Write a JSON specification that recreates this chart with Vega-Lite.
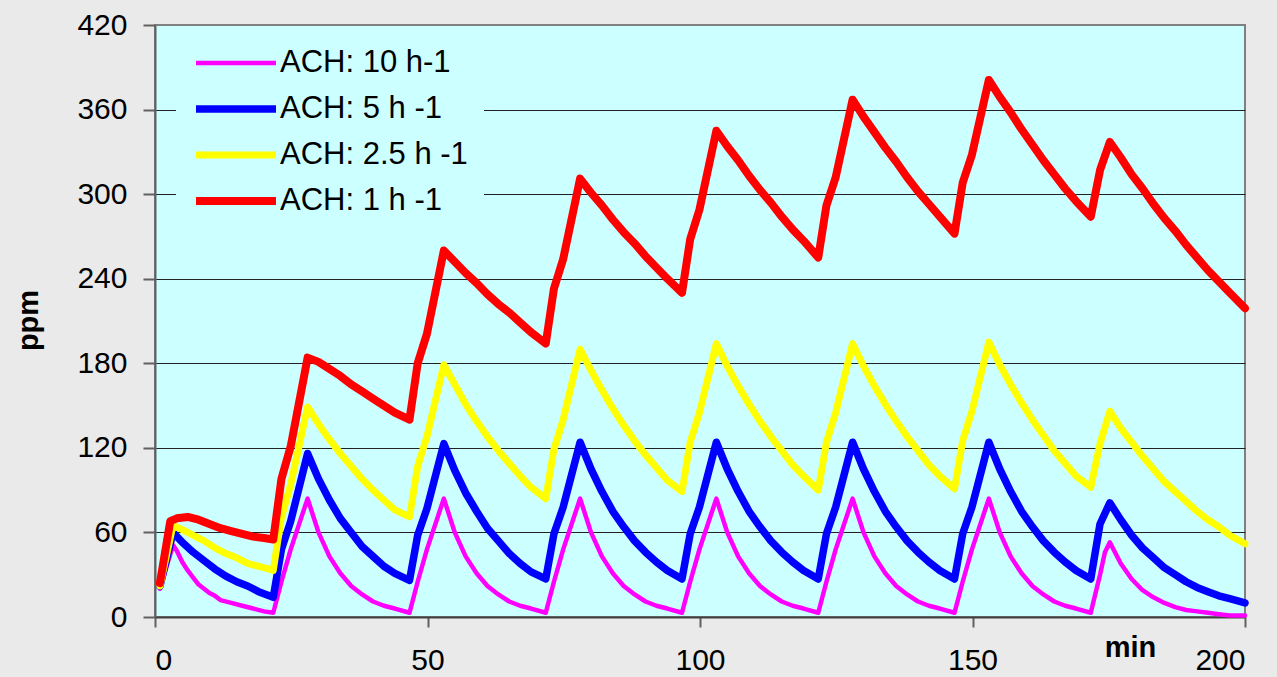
{
  "$schema": "https://vega.github.io/schema/vega-lite/v6.json",
  "autosize": "none",
  "padding": {"left": 155, "top": 25, "right": 32, "bottom": 60},
  "width": 1090,
  "height": 592,
  "background": "#EAEAEA",
  "config": {
    "view": {"fill": "#CCFFFF", "stroke": "#808080", "strokeWidth": 2},
    "font": "Liberation Sans",
    "axis": {
      "labelFont": "Liberation Sans", "labelFontSize": 30, "labelColor": "#000000",
      "titleFont": "Liberation Sans", "titleFontSize": 29, "titleFontWeight": "bold", "titleColor": "#000000",
      "domainColor": "#606060", "domainWidth": 2, "tickColor": "#606060", "tickWidth": 2
    },
    "legend": {
      "orient": "none", "legendX": 21, "legendY": 7, "fillColor": "#CCFFFF", "padding": 16,
      "symbolType": "stroke", "symbolSize": 6400, "clipHeight": 30,
      "labelFont": "Liberation Sans", "labelFontSize": 31, "labelColor": "#000000",
      "rowPadding": 15, "labelOffset": 0, "labelLimit": 0
    }
  },
  "data": {"values": [
    {"s":"10","t":0.9,"v":20},{"s":"10","t":3.3,"v":51},{"s":"10","t":4,"v":47},{"s":"10","t":5,"v":39},{"s":"10","t":6,"v":33},{"s":"10","t":7,"v":28},{"s":"10","t":8,"v":23},{"s":"10","t":9,"v":20},{"s":"10","t":10,"v":17},{"s":"10","t":11,"v":15},{"s":"10","t":12,"v":12},{"s":"10","t":14,"v":10},{"s":"10","t":16,"v":8},{"s":"10","t":18,"v":6},{"s":"10","t":20,"v":4},{"s":"10","t":21.7,"v":3},
    {"s":"10","t":23.2,"v":25},{"s":"10","t":24.9,"v":48},{"s":"10","t":28,"v":84},{"s":"10","t":30,"v":60},{"s":"10","t":32,"v":43},{"s":"10","t":34,"v":31},{"s":"10","t":36,"v":22},{"s":"10","t":38,"v":16},{"s":"10","t":40,"v":11},{"s":"10","t":42,"v":8},{"s":"10","t":44,"v":6},{"s":"10","t":46.7,"v":3},
    {"s":"10","t":48.2,"v":25},{"s":"10","t":49.9,"v":48},{"s":"10","t":53,"v":84},{"s":"10","t":55,"v":60},{"s":"10","t":57,"v":43},{"s":"10","t":59,"v":31},{"s":"10","t":61,"v":22},{"s":"10","t":63,"v":16},{"s":"10","t":65,"v":11},{"s":"10","t":67,"v":8},{"s":"10","t":69,"v":6},{"s":"10","t":71.7,"v":3},
    {"s":"10","t":73.2,"v":25},{"s":"10","t":74.9,"v":48},{"s":"10","t":78,"v":84},{"s":"10","t":80,"v":60},{"s":"10","t":82,"v":43},{"s":"10","t":84,"v":31},{"s":"10","t":86,"v":22},{"s":"10","t":88,"v":16},{"s":"10","t":90,"v":11},{"s":"10","t":92,"v":8},{"s":"10","t":94,"v":6},{"s":"10","t":96.7,"v":3},
    {"s":"10","t":98.2,"v":25},{"s":"10","t":99.9,"v":48},{"s":"10","t":103,"v":84},{"s":"10","t":105,"v":60},{"s":"10","t":107,"v":43},{"s":"10","t":109,"v":31},{"s":"10","t":111,"v":22},{"s":"10","t":113,"v":16},{"s":"10","t":115,"v":11},{"s":"10","t":117,"v":8},{"s":"10","t":119,"v":6},{"s":"10","t":121.7,"v":3},
    {"s":"10","t":123.2,"v":25},{"s":"10","t":124.9,"v":48},{"s":"10","t":128,"v":84},{"s":"10","t":130,"v":60},{"s":"10","t":132,"v":43},{"s":"10","t":134,"v":31},{"s":"10","t":136,"v":22},{"s":"10","t":138,"v":16},{"s":"10","t":140,"v":11},{"s":"10","t":142,"v":8},{"s":"10","t":144,"v":6},{"s":"10","t":146.7,"v":3},
    {"s":"10","t":148.2,"v":25},{"s":"10","t":149.9,"v":48},{"s":"10","t":153,"v":84},{"s":"10","t":155,"v":60},{"s":"10","t":157,"v":43},{"s":"10","t":159,"v":31},{"s":"10","t":161,"v":22},{"s":"10","t":163,"v":16},{"s":"10","t":165,"v":11},{"s":"10","t":167,"v":8},{"s":"10","t":169,"v":6},{"s":"10","t":171.7,"v":3},
    {"s":"10","t":173.4,"v":30},{"s":"10","t":174.3,"v":46},{"s":"10","t":175.2,"v":53},{"s":"10","t":177.2,"v":38},{"s":"10","t":179.2,"v":27},{"s":"10","t":181.2,"v":19},{"s":"10","t":183.2,"v":14},{"s":"10","t":185.2,"v":10},{"s":"10","t":187.2,"v":7},{"s":"10","t":189.2,"v":5},{"s":"10","t":191.2,"v":4},{"s":"10","t":193.2,"v":3},{"s":"10","t":195.2,"v":2},{"s":"10","t":197.2,"v":1},{"s":"10","t":200,"v":1},

    {"s":"5","t":0.9,"v":22},{"s":"5","t":3.3,"v":60},{"s":"5","t":5,"v":53},{"s":"5","t":7,"v":46},{"s":"5","t":9,"v":40},{"s":"5","t":11,"v":34},{"s":"5","t":13,"v":29},{"s":"5","t":15,"v":25},{"s":"5","t":17,"v":22},{"s":"5","t":19,"v":18},{"s":"5","t":21.7,"v":14},
    {"s":"5","t":23.2,"v":48},{"s":"5","t":24.9,"v":68},{"s":"5","t":28,"v":116},{"s":"5","t":30,"v":98},{"s":"5","t":32,"v":83},{"s":"5","t":34,"v":70},{"s":"5","t":36,"v":60},{"s":"5","t":38,"v":50},{"s":"5","t":40,"v":43},{"s":"5","t":42,"v":36},{"s":"5","t":44,"v":31},{"s":"5","t":46.7,"v":26},
    {"s":"5","t":48.2,"v":58},{"s":"5","t":49.9,"v":77},{"s":"5","t":53,"v":123},{"s":"5","t":55,"v":104},{"s":"5","t":57,"v":88},{"s":"5","t":59,"v":75},{"s":"5","t":61,"v":63},{"s":"5","t":63,"v":54},{"s":"5","t":65,"v":45},{"s":"5","t":67,"v":38},{"s":"5","t":69,"v":32},{"s":"5","t":71.7,"v":27},
    {"s":"5","t":73.2,"v":59},{"s":"5","t":74.9,"v":78},{"s":"5","t":78,"v":124},{"s":"5","t":80,"v":105},{"s":"5","t":82,"v":89},{"s":"5","t":84,"v":75},{"s":"5","t":86,"v":64},{"s":"5","t":88,"v":54},{"s":"5","t":90,"v":46},{"s":"5","t":92,"v":39},{"s":"5","t":94,"v":33},{"s":"5","t":96.7,"v":27},
    {"s":"5","t":98.2,"v":59},{"s":"5","t":99.9,"v":78},{"s":"5","t":103,"v":124},{"s":"5","t":105,"v":105},{"s":"5","t":107,"v":89},{"s":"5","t":109,"v":75},{"s":"5","t":111,"v":64},{"s":"5","t":113,"v":54},{"s":"5","t":115,"v":46},{"s":"5","t":117,"v":39},{"s":"5","t":119,"v":33},{"s":"5","t":121.7,"v":27},
    {"s":"5","t":123.2,"v":59},{"s":"5","t":124.9,"v":78},{"s":"5","t":128,"v":124},{"s":"5","t":130,"v":105},{"s":"5","t":132,"v":89},{"s":"5","t":134,"v":75},{"s":"5","t":136,"v":64},{"s":"5","t":138,"v":54},{"s":"5","t":140,"v":46},{"s":"5","t":142,"v":39},{"s":"5","t":144,"v":33},{"s":"5","t":146.7,"v":27},
    {"s":"5","t":148.2,"v":59},{"s":"5","t":149.9,"v":78},{"s":"5","t":153,"v":124},{"s":"5","t":155,"v":105},{"s":"5","t":157,"v":89},{"s":"5","t":159,"v":75},{"s":"5","t":161,"v":64},{"s":"5","t":163,"v":54},{"s":"5","t":165,"v":46},{"s":"5","t":167,"v":39},{"s":"5","t":169,"v":33},{"s":"5","t":171.7,"v":27},
    {"s":"5","t":173.4,"v":66},{"s":"5","t":175.2,"v":81},{"s":"5","t":177.2,"v":69},{"s":"5","t":179.2,"v":58},{"s":"5","t":181.2,"v":49},{"s":"5","t":183.2,"v":42},{"s":"5","t":185.2,"v":35},{"s":"5","t":187.2,"v":30},{"s":"5","t":189.2,"v":25},{"s":"5","t":191.2,"v":21},{"s":"5","t":193.2,"v":18},{"s":"5","t":195.2,"v":15},{"s":"5","t":197.2,"v":13},{"s":"5","t":200,"v":10},

    {"s":"2.5","t":0.9,"v":22},{"s":"2.5","t":3.3,"v":65},{"s":"2.5","t":5,"v":62},{"s":"2.5","t":7,"v":58},{"s":"2.5","t":9,"v":54},{"s":"2.5","t":11,"v":49},{"s":"2.5","t":13,"v":45},{"s":"2.5","t":15,"v":42},{"s":"2.5","t":17,"v":38},{"s":"2.5","t":19,"v":36},{"s":"2.5","t":21.7,"v":33},
    {"s":"2.5","t":23.2,"v":71},{"s":"2.5","t":24.9,"v":94},{"s":"2.5","t":28,"v":149},{"s":"2.5","t":30,"v":137},{"s":"2.5","t":32,"v":126},{"s":"2.5","t":34,"v":116},{"s":"2.5","t":36,"v":107},{"s":"2.5","t":38,"v":98},{"s":"2.5","t":40,"v":90},{"s":"2.5","t":42,"v":83},{"s":"2.5","t":44,"v":76},{"s":"2.5","t":46.7,"v":71},
    {"s":"2.5","t":48.2,"v":107},{"s":"2.5","t":49.9,"v":128},{"s":"2.5","t":53,"v":179},{"s":"2.5","t":55,"v":165},{"s":"2.5","t":57,"v":151},{"s":"2.5","t":59,"v":139},{"s":"2.5","t":61,"v":128},{"s":"2.5","t":63,"v":118},{"s":"2.5","t":65,"v":109},{"s":"2.5","t":67,"v":100},{"s":"2.5","t":69,"v":92},{"s":"2.5","t":71.7,"v":84},
    {"s":"2.5","t":73.2,"v":119},{"s":"2.5","t":74.9,"v":140},{"s":"2.5","t":78,"v":190},{"s":"2.5","t":80,"v":175},{"s":"2.5","t":82,"v":161},{"s":"2.5","t":84,"v":148},{"s":"2.5","t":86,"v":136},{"s":"2.5","t":88,"v":125},{"s":"2.5","t":90,"v":115},{"s":"2.5","t":92,"v":106},{"s":"2.5","t":94,"v":97},{"s":"2.5","t":96.7,"v":89},
    {"s":"2.5","t":98.2,"v":124},{"s":"2.5","t":99.9,"v":145},{"s":"2.5","t":103,"v":194},{"s":"2.5","t":105,"v":178},{"s":"2.5","t":107,"v":164},{"s":"2.5","t":109,"v":151},{"s":"2.5","t":111,"v":139},{"s":"2.5","t":113,"v":128},{"s":"2.5","t":115,"v":118},{"s":"2.5","t":117,"v":108},{"s":"2.5","t":119,"v":100},{"s":"2.5","t":121.7,"v":90},
    {"s":"2.5","t":123.2,"v":124},{"s":"2.5","t":124.9,"v":145},{"s":"2.5","t":128,"v":194},{"s":"2.5","t":130,"v":178},{"s":"2.5","t":132,"v":164},{"s":"2.5","t":134,"v":151},{"s":"2.5","t":136,"v":139},{"s":"2.5","t":138,"v":128},{"s":"2.5","t":140,"v":118},{"s":"2.5","t":142,"v":108},{"s":"2.5","t":144,"v":100},{"s":"2.5","t":146.7,"v":91},
    {"s":"2.5","t":148.2,"v":125},{"s":"2.5","t":149.9,"v":146},{"s":"2.5","t":153,"v":195},{"s":"2.5","t":155,"v":179},{"s":"2.5","t":157,"v":165},{"s":"2.5","t":159,"v":152},{"s":"2.5","t":161,"v":140},{"s":"2.5","t":163,"v":129},{"s":"2.5","t":165,"v":118},{"s":"2.5","t":167,"v":109},{"s":"2.5","t":169,"v":100},{"s":"2.5","t":171.7,"v":92},
    {"s":"2.5","t":173.4,"v":123},{"s":"2.5","t":175.2,"v":146},{"s":"2.5","t":177.2,"v":134},{"s":"2.5","t":179.2,"v":124},{"s":"2.5","t":181.2,"v":114},{"s":"2.5","t":183.2,"v":105},{"s":"2.5","t":185.2,"v":96},{"s":"2.5","t":187.2,"v":89},{"s":"2.5","t":189.2,"v":82},{"s":"2.5","t":191.2,"v":75},{"s":"2.5","t":193.2,"v":69},{"s":"2.5","t":195.2,"v":64},{"s":"2.5","t":197.2,"v":58},{"s":"2.5","t":200,"v":52},

    {"s":"1","t":0.9,"v":24},{"s":"1","t":2.8,"v":68},{"s":"1","t":4,"v":70},{"s":"1","t":6,"v":71},{"s":"1","t":8,"v":69},{"s":"1","t":10,"v":66},{"s":"1","t":12,"v":63},{"s":"1","t":14,"v":61},{"s":"1","t":16,"v":59},{"s":"1","t":18,"v":57},{"s":"1","t":20,"v":56},{"s":"1","t":21.7,"v":55},
    {"s":"1","t":23.2,"v":98},{"s":"1","t":24.9,"v":121},{"s":"1","t":28,"v":184},{"s":"1","t":30,"v":181},{"s":"1","t":32,"v":176},{"s":"1","t":34,"v":171},{"s":"1","t":36,"v":165},{"s":"1","t":38,"v":160},{"s":"1","t":40,"v":155},{"s":"1","t":42,"v":150},{"s":"1","t":44,"v":145},{"s":"1","t":46.7,"v":140},
    {"s":"1","t":48.2,"v":180},{"s":"1","t":49.9,"v":201},{"s":"1","t":53,"v":260},{"s":"1","t":55,"v":252},{"s":"1","t":57,"v":244},{"s":"1","t":59,"v":237},{"s":"1","t":61,"v":229},{"s":"1","t":63,"v":222},{"s":"1","t":65,"v":216},{"s":"1","t":67,"v":209},{"s":"1","t":69,"v":202},{"s":"1","t":71.7,"v":194},
    {"s":"1","t":73.2,"v":233},{"s":"1","t":74.9,"v":254},{"s":"1","t":78,"v":311},{"s":"1","t":80,"v":301},{"s":"1","t":82,"v":292},{"s":"1","t":84,"v":282},{"s":"1","t":86,"v":273},{"s":"1","t":88,"v":265},{"s":"1","t":90,"v":256},{"s":"1","t":92,"v":248},{"s":"1","t":94,"v":240},{"s":"1","t":96.7,"v":230},
    {"s":"1","t":98.2,"v":268},{"s":"1","t":99.9,"v":289},{"s":"1","t":103,"v":345},{"s":"1","t":105,"v":334},{"s":"1","t":107,"v":324},{"s":"1","t":109,"v":313},{"s":"1","t":111,"v":303},{"s":"1","t":113,"v":294},{"s":"1","t":115,"v":284},{"s":"1","t":117,"v":275},{"s":"1","t":119,"v":267},{"s":"1","t":121.7,"v":255},
    {"s":"1","t":123.2,"v":292},{"s":"1","t":124.9,"v":312},{"s":"1","t":128,"v":367},{"s":"1","t":130,"v":355},{"s":"1","t":132,"v":344},{"s":"1","t":134,"v":333},{"s":"1","t":136,"v":323},{"s":"1","t":138,"v":312},{"s":"1","t":140,"v":302},{"s":"1","t":142,"v":293},{"s":"1","t":144,"v":284},{"s":"1","t":146.7,"v":272},
    {"s":"1","t":148.2,"v":308},{"s":"1","t":149.9,"v":328},{"s":"1","t":153,"v":381},{"s":"1","t":155,"v":369},{"s":"1","t":157,"v":358},{"s":"1","t":159,"v":346},{"s":"1","t":161,"v":335},{"s":"1","t":163,"v":324},{"s":"1","t":165,"v":314},{"s":"1","t":167,"v":304},{"s":"1","t":169,"v":295},{"s":"1","t":171.7,"v":284},
    {"s":"1","t":173.4,"v":317},{"s":"1","t":175.2,"v":337},{"s":"1","t":177.2,"v":326},{"s":"1","t":179.2,"v":314},{"s":"1","t":181.2,"v":304},{"s":"1","t":183.2,"v":293},{"s":"1","t":185.2,"v":283},{"s":"1","t":187.2,"v":274},{"s":"1","t":189.2,"v":264},{"s":"1","t":191.2,"v":255},{"s":"1","t":193.2,"v":246},{"s":"1","t":195.2,"v":238},{"s":"1","t":197.2,"v":230},{"s":"1","t":200,"v":219}
  ]},
  "mark": {"type": "line", "strokeCap": "round", "strokeJoin": "round"},
  "encoding": {
    "x": {
      "field": "t", "type": "quantitative",
      "scale": {"domain": [0, 200], "nice": false, "zero": false},
      "axis": {
        "values": [0, 50, 100, 150, 200], "grid": false, "tickSize": 10, "labelPadding": 18,
        "domainColor": "#404040",
        "title": "min", "titleX": 975, "titleY": 30, "titleAlign": "center", "titleBaseline": "middle"
      }
    },
    "y": {
      "field": "v", "type": "quantitative",
      "scale": {"domain": [0, 420], "nice": false},
      "axis": {
        "values": [0, 60, 120, 180, 240, 300, 360, 420], "grid": true,
        "gridColor": {"condition": {"test": "datum.value == 420", "value": "#808080"}, "value": "#222222"},
        "gridWidth": 1, "tickSize": 12, "labelPadding": 16,
        "title": "ppm", "titleX": -127, "titleY": 295, "titleAngle": -90, "titleAlign": "center", "titleBaseline": "middle"
      }
    },
    "color": {
      "field": "s", "type": "nominal",
      "scale": {"domain": ["10", "5", "2.5", "1"], "range": ["#FF00FF", "#0000FF", "#FFFF00", "#FF0000"]},
      "legend": {"title": null, "labelExpr": "datum.label == '10' ? 'ACH: 10 h-1' : 'ACH: ' + datum.label + ' h -1'"}
    },
    "strokeWidth": {
      "field": "s", "type": "nominal",
      "scale": {"type": "ordinal", "domain": ["10", "5", "2.5", "1"], "range": [4.5, 7.5, 7, 8]},
      "legend": {"title": null, "labelExpr": "datum.label == '10' ? 'ACH: 10 h-1' : 'ACH: ' + datum.label + ' h -1'"}
    }
  }
}
